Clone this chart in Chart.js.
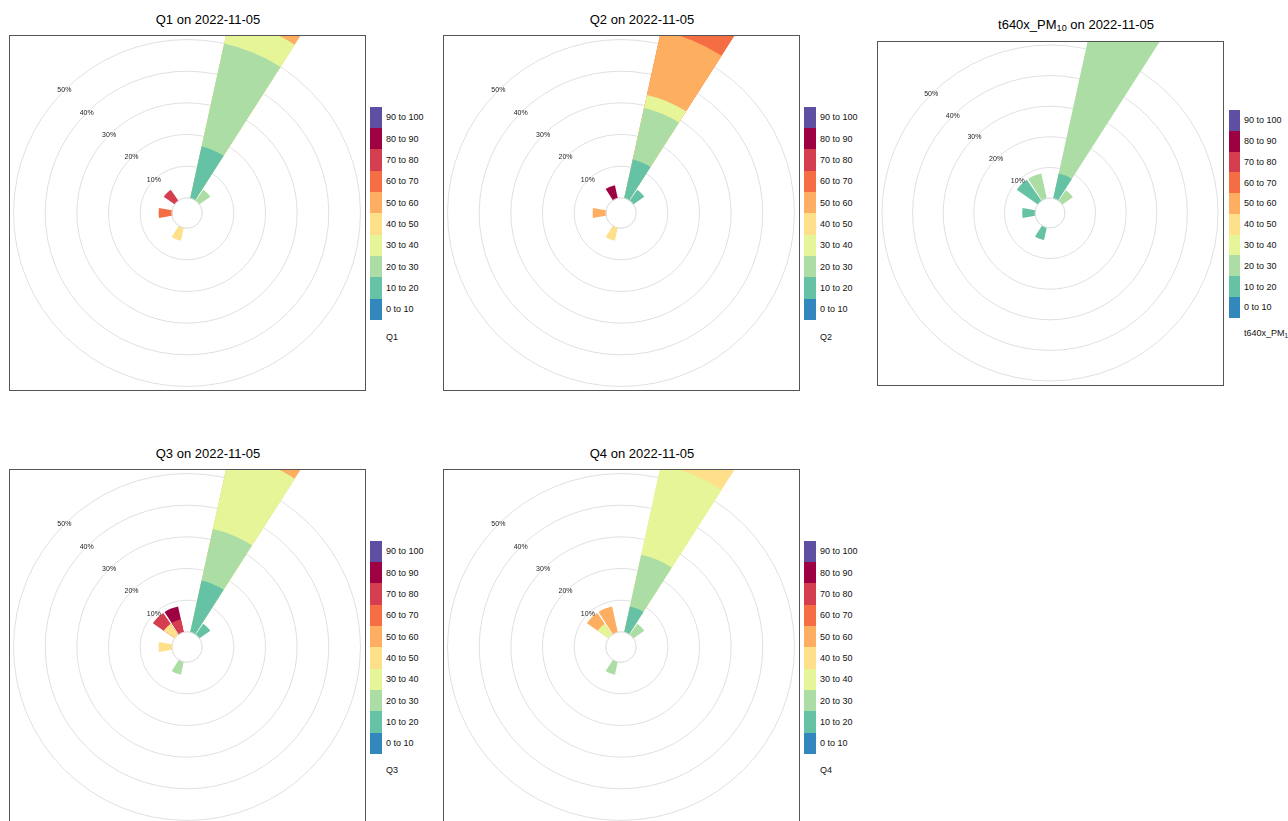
<!DOCTYPE html>
<html>
<head>
<meta charset="utf-8">
<script src="https://cdn.jsdelivr.net/npm/chart.js@4.4.1/dist/chart.umd.min.js"></script>
<style>
html,body{margin:0;padding:0;width:1288px;height:821px;overflow:hidden;background:#fff;font-family:"Liberation Sans",Arial,sans-serif;color:#000;}
.title{position:absolute;width:360px;text-align:center;font-size:13px;line-height:15px;white-space:nowrap;}
.title sub,.tx sub{font-size:70%;vertical-align:-0.25em;line-height:0;}
.box{position:absolute;border:1px solid #555;overflow:hidden;}
.box canvas{display:block;}
.sw{position:absolute;}
.tx{position:absolute;font-size:9px;line-height:10px;white-space:nowrap;color:#111;}
</style>
</head>
<body>
<script>
// ---- data -------------------------------------------------------------
const sectors = ['N','NNE','NE','ENE','E','ESE','SE','SSE','S','SSW','SW','WSW','W','WNW','NW','NNW'];
const bins = ['0 to 10','10 to 20','20 to 30','30 to 40','40 to 50','50 to 60','60 to 70','70 to 80','80 to 90','90 to 100'];
const binColours = ['#3288BD','#66C2A5','#ABDDA4','#E6F598','#FEE08B','#FDAE61','#F46D43','#D53E4F','#9E0142','#5E4FA2'];
const ringTicks = [0, 10, 20, 30, 40, 50];
const ringLabelTicks = [10, 20, 30, 40, 50];

// frequency (% of hours) per wind sector (N, NNE, ... NNW) for each concentration bin
const Q1 = {
  '10 to 20': [0,16.67,0,0, 0,0,0,0, 0,0,0,0, 0,0,0,0],
  '20 to 30': [0,33.33,4.17,0, 0,0,0,0, 0,0,0,0, 0,0,0,0],
  '30 to 40': [0,8.33,0,0, 0,0,0,0, 0,0,0,0, 0,0,0,0],
  '40 to 50': [0,0,0,0, 0,0,0,0, 0,4.17,0,0, 0,0,0,0],
  '50 to 60': [0,25,0,0, 0,0,0,0, 0,0,0,0, 0,0,0,0],
  '60 to 70': [0,0,0,0, 0,0,0,0, 0,0,0,0, 4.17,0,0,0],
  '70 to 80': [0,0,0,0, 0,0,0,0, 0,0,0,0, 0,0,4.17,0]
};
const Q2 = {
  '10 to 20': [0,12.5,4.17,0, 0,0,0,0, 0,0,0,0, 0,0,0,0],
  '20 to 30': [0,16.67,0,0, 0,0,0,0, 0,0,0,0, 0,0,0,0],
  '30 to 40': [0,4.17,0,0, 0,0,0,0, 0,0,0,0, 0,0,0,0],
  '40 to 50': [0,0,0,0, 0,0,0,0, 0,4.17,0,0, 0,0,0,0],
  '50 to 60': [0,20.83,0,0, 0,0,0,0, 0,0,0,0, 4.17,0,0,0],
  '60 to 70': [0,29.17,0,0, 0,0,0,0, 0,0,0,0, 0,0,0,0],
  '80 to 90': [0,0,0,0, 0,0,0,0, 0,0,0,0, 0,0,0,4.17]
};
const PM10 = {
  '10 to 20': [0,8.33,0,0, 0,0,0,0, 0,4.17,0,0, 4.17,0,8.33,0],
  '20 to 30': [0,62.5,4.17,0, 0,0,0,0, 0,0,0,0, 0,0,0,8.33]
};
const Q3 = {
  '10 to 20': [0,16.67,4.17,0, 0,0,0,0, 0,0,0,0, 0,0,0,0],
  '20 to 30': [0,16.67,0,0, 0,0,0,0, 0,4.17,0,0, 0,0,0,0],
  '30 to 40': [0,25,0,0, 0,0,0,0, 0,0,0,0, 0,0,0,0],
  '40 to 50': [0,0,0,0, 0,0,0,0, 0,0,0,0, 4.17,0,4.17,0],
  '50 to 60': [0,12.5,0,0, 0,0,0,0, 0,0,0,0, 0,0,0,0],
  '70 to 80': [0,0,0,0, 0,0,0,0, 0,0,0,0, 0,0,4.17,4.17],
  '80 to 90': [0,0,0,0, 0,0,0,0, 0,0,0,0, 0,0,0,4.17]
};
const Q4 = {
  '10 to 20': [0,8.33,0,0, 0,0,0,0, 0,0,0,0, 0,0,0,0],
  '20 to 30': [0,16.67,4.17,0, 0,0,0,0, 0,4.17,0,0, 0,0,0,0],
  '30 to 40': [0,29.17,0,0, 0,0,0,0, 0,0,0,0, 0,0,4.17,0],
  '40 to 50': [0,20.83,0,0, 0,0,0,0, 0,0,0,0, 0,0,0,0],
  '50 to 60': [0,0,0,0, 0,0,0,0, 0,0,0,0, 0,0,4.17,8.33]
};

// ---- layout ------------------------------------------------------------
const panels = [
  {values:Q1, title:'Q1 on 2022-11-05', name:'Q1', box:[9,35,357,356], tx:208, tb:24,
   lg:{x:370, y:106.7, w:12, h:21.33, t:386, ny:337}, min:-4.8, max:51.12},
  {values:Q2, title:'Q2 on 2022-11-05', name:'Q2', box:[443,35,357,356], tx:642, tb:24,
   lg:{x:804, y:106.7, w:12, h:21.33, t:820, ny:337}, min:-4.8, max:51.12},
  {values:PM10, title:'t640x_PM<sub>10</sub> on 2022-11-05', name:'t640x_PM<sub>10</sub>', box:[877,41,347,345], tx:1076, tb:29,
   lg:{x:1229, y:110, w:11, h:20.77, t:1244, ny:333}, min:-4.9, max:50.98},
  {values:Q3, title:'Q3 on 2022-11-05', name:'Q3', box:[9,469,357,356], tx:208, tb:458,
   lg:{x:370, y:540.7, w:12, h:21.33, t:386, ny:770}, min:-4.8, max:51.12},
  {values:Q4, title:'Q4 on 2022-11-05', name:'Q4', box:[443,469,357,356], tx:642, tb:458,
   lg:{x:804, y:540.7, w:12, h:21.33, t:820, ny:770}, min:-4.8, max:51.12}
];

const EMPTY = -1000;
function buildDatasets(values) {
  const cum = sectors.map(() => 0);
  return bins.map((b, bi) => {
    const v = values[b] || sectors.map(() => 0);
    const data = [];
    sectors.forEach((s, si) => {
      cum[si] += v[si];
      data.push(v[si] > 0 ? cum[si] : EMPTY, EMPTY); // wedge, then gap
    });
    return {
      label: b, data,
      backgroundColor: binColours[bi],
      borderWidth: 0,
      angle: c => (c.dataIndex % 2 ? 2.25 : 20.25)
    };
  });
}

const gridColour = '#e0e0e0';
const roseDecor = {
  id: 'roseDecor',
  afterDatasetsDraw(chart) {
    const s = chart.scales.r, ctx = chart.ctx;
    const r0 = s.getDistanceFromCenterForValue(0);
    ctx.save();
    ctx.fillStyle = '#fff';
    ctx.beginPath();
    ctx.arc(s.xCenter, s.yCenter, r0 - 0.5, 0, Math.PI * 2);
    ctx.fill();
    ctx.strokeStyle = gridColour;
    ctx.lineWidth = 1;
    ctx.beginPath();
    ctx.arc(s.xCenter, s.yCenter, r0, 0, Math.PI * 2);
    ctx.stroke();
    ctx.font = '7px "Liberation Sans", Arial, sans-serif';
    ctx.fillStyle = '#222';
    ctx.textAlign = 'center';
    ctx.textBaseline = 'middle';
    const a = -3 * Math.PI / 4;
    ringLabelTicks.forEach(v => {
      const d = s.getDistanceFromCenterForValue(v);
      ctx.fillText(v + '%', s.xCenter + d * Math.cos(a), s.yCenter + d * Math.sin(a));
    });
    ctx.restore();
  }
};

function el(tag, cls, css, html) {
  const e = document.createElement(tag);
  if (cls) e.className = cls;
  Object.assign(e.style, css);
  if (html != null) e.innerHTML = html;
  document.body.appendChild(e);
  return e;
}

const labels = [];
sectors.forEach(s => labels.push(s, ''));

panels.forEach(p => {
  const [bx, by, bw, bh] = p.box;
  el('div', 'title', {left: (p.tx - 180) + 'px', top: (p.tb - 12) + 'px'}, p.title);
  const box = el('div', 'box', {left: bx + 'px', top: by + 'px', width: (bw - 2) + 'px', height: (bh - 2) + 'px'});
  const cv = document.createElement('canvas');
  cv.width = bw - 2; cv.height = bh - 2;
  box.appendChild(cv);

  // legend (colour key)
  const L = p.lg;
  for (let i = bins.length - 1; i >= 0; i--) {
    const k = bins.length - 1 - i;
    el('div', 'sw', {left: L.x + 'px', top: (L.y + k * L.h) + 'px', width: L.w + 'px', height: (L.h + 0.4) + 'px', background: binColours[i]});
    el('div', 'tx', {left: L.t + 'px', top: (L.y + k * L.h + L.h / 2 - 5) + 'px'}, bins[i]);
  }
  el('div', 'tx', {left: L.t + 'px', top: (L.ny - 5) + 'px'}, p.name);

  const pmin = p.min;
  new Chart(cv, {
    type: 'polarArea',
    data: {labels, datasets: buildDatasets(p.values)},
    options: {
      responsive: false,
      animation: false,
      events: [],
      layout: {padding: 0},
      plugins: {legend: {display: false}, tooltip: {enabled: false}, title: {display: false}},
      scales: {
        r: {
          min: p.min, max: p.max,
          startAngle: -10.125,
          ticks: {display: false},
          pointLabels: {display: false},
          angleLines: {display: false},
          grid: {circular: true, lineWidth: 1, color: c => (c.tick && c.tick.value < 0 ? 'rgba(0,0,0,0)' : gridColour)},
          afterBuildTicks: s => { s.ticks = [pmin, ...ringTicks].map(v => ({value: v})); }
        }
      }
    },
    plugins: [roseDecor]
  });
});
</script>
</body>
</html>
